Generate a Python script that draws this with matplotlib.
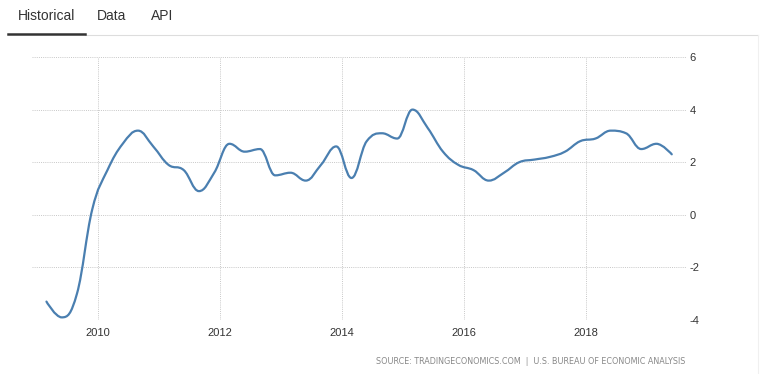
import matplotlib
matplotlib.use("Agg")
import matplotlib.pyplot as plt
from matplotlib.path import Path
from matplotlib.patches import PathPatch
from matplotlib.lines import Line2D
import numpy as np

# ---- data ----
quarters = [f"{y}Q{q}" for y in range(2009, 2020) for q in range(1, 5)][:42]
gdp_growth = [-3.3, -3.9, -3.0, 0.2,
              1.7, 2.7, 3.2, 2.6,
              1.9, 1.7, 0.9, 1.6,
              2.7, 2.4, 2.5, 1.5,
              1.6, 1.3, 1.9, 2.6,
              1.4, 2.8, 3.1, 2.9,
              4.0, 3.3, 2.4, 1.9,
              1.7, 1.3, 1.6, 2.0,
              2.1, 2.2, 2.4, 2.8,
              2.9, 3.2, 3.1, 2.5,
              2.7, 2.3]
x_ticks = [2010, 2012, 2014, 2016, 2018]
y_ticks = [-4, -2, 0, 2, 4, 6]
tabs = ["Historical", "Data", "API"]
source_text = "SOURCE: TRADINGECONOMICS.COM  |  U.S. BUREAU OF ECONOMIC ANALYSIS"

def q_to_x(s):
    y, q = s.split("Q")
    return int(y) + (int(q) - 1) * 0.25 + 0.16

xs = np.array([q_to_x(s) for s in quarters])
ys = np.array(gdp_growth, dtype=float)

# Highcharts-style spline path
def spline_path(x, y, smoothing=1.5):
    n = len(x)
    denom = smoothing + 1
    lcx = x.copy(); lcy = y.copy(); rcx = x.copy(); rcy = y.copy()
    for i in range(1, n - 1):
        px, py = x[i], y[i]
        lx, ly = x[i - 1], y[i - 1]
        nx, ny = x[i + 1], y[i + 1]
        lcx_i = (smoothing * px + lx) / denom
        lcy_i = (smoothing * py + ly) / denom
        rcx_i = (smoothing * px + nx) / denom
        rcy_i = (smoothing * py + ny) / denom
        corr = 0.0
        if rcx_i != lcx_i:
            corr = (rcy_i - lcy_i) * (rcx_i - px) / (rcx_i - lcx_i) + py - rcy_i
        lcy_i += corr; rcy_i += corr
        if lcy_i > ly and lcy_i > py:
            lcy_i = max(ly, py); rcy_i = 2 * py - lcy_i
        elif lcy_i < ly and lcy_i < py:
            lcy_i = min(ly, py); rcy_i = 2 * py - lcy_i
        if rcy_i > ny and rcy_i > py:
            rcy_i = max(ny, py); lcy_i = 2 * py - rcy_i
        elif rcy_i < ny and rcy_i < py:
            rcy_i = min(ny, py); lcy_i = 2 * py - rcy_i
        lcx[i], lcy[i], rcx[i], rcy[i] = lcx_i, lcy_i, rcx_i, rcy_i
    verts = [(x[0], y[0])]
    codes = [Path.MOVETO]
    for i in range(1, n):
        verts += [(rcx[i - 1], rcy[i - 1]), (lcx[i], lcy[i]), (x[i], y[i])]
        codes += [Path.CURVE4] * 3
    return Path(verts, codes)

W, H = 770, 374
fig = plt.figure(figsize=(W / 100, H / 100), dpi=100)
fig.patch.set_facecolor("white")

ax_left, ax_right = 32, 687
ax_top, ax_bottom = 57, 320
ax = fig.add_axes([ax_left / W, 1 - ax_bottom / H, (ax_right - ax_left) / W, (ax_bottom - ax_top) / H])
ax.set_facecolor("white")
ax.set_xlim(2008.923, 2019.66)
ax.set_ylim(-4, 6)
for s in ax.spines.values():
    s.set_visible(False)

ax.set_xticks(x_ticks)
ax.set_xticklabels([str(t) for t in x_ticks])
ax.set_yticks(y_ticks)
ax.set_yticklabels([str(t) for t in y_ticks])
ax.yaxis.tick_right()
ax.tick_params(axis="both", length=0, labelsize=8, labelcolor="#333333")
ax.tick_params(axis="y", pad=2)
ax.tick_params(axis="x", pad=6)
for lab in ax.get_xticklabels() + ax.get_yticklabels():
    lab.set_fontfamily("Liberation Sans")
for lab in ax.get_yticklabels():
    lab.set_horizontalalignment("left")

ax.grid(True, color="#c8c8c8", linestyle=(0, (1, 1.2)), linewidth=0.7)
ax.set_axisbelow(True)

patch = PathPatch(spline_path(xs, ys), facecolor="none", edgecolor="#4a7fb0",
                  linewidth=1.6, capstyle="round", joinstyle="round", zorder=3)
ax.add_patch(patch)

# tabs
tab_x = [18, 97, 151]
for t, tx in zip(tabs, tab_x):
    fig.text(tx / W, 1 - 16 / H, t, fontsize=10, family="Liberation Sans",
             color="#333333", ha="left", va="center")
fig.add_artist(Line2D([85 / W, 758 / W], [1 - 34.5 / H, 1 - 34.5 / H], color="#dddddd", linewidth=0.8))
fig.add_artist(Line2D([8 / W, 85 / W], [1 - 33.5 / H, 1 - 33.5 / H], color="#333333", linewidth=1.8))
fig.add_artist(Line2D([758 / W, 758 / W], [0, 1 - 35 / H], color="#f0f0f0", linewidth=0.8))

fig.text(685 / W, 1 - 362 / H, source_text, fontsize=5.8, family="DejaVu Sans",
         color="#888888", ha="right", va="center")

fig.savefig("out.png", dpi=100, facecolor="white")
